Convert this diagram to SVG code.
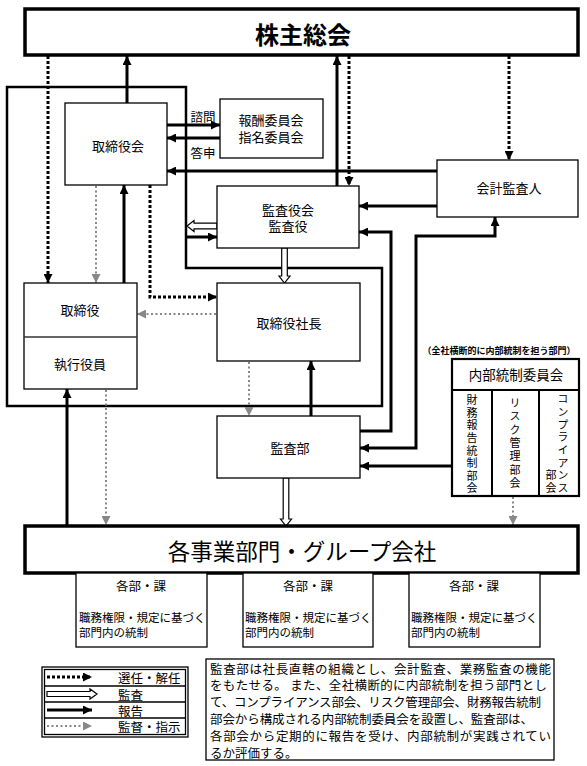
<svg xmlns="http://www.w3.org/2000/svg" width="587" height="766" viewBox="0 0 587 766">
<style>
.box{fill:#fff;stroke:#000;stroke-width:1.3}
.thick{fill:#fff;stroke:#000;stroke-width:3.5}
.t{font-family:"Noto Sans CJK JP","Noto Sans CJK SC",sans-serif;fill:#000;text-anchor:middle;dominant-baseline:central}
.l{text-anchor:start}
.v{writing-mode:vertical-rl;text-anchor:start;font-size:11px}
.rep{stroke:#000;stroke-width:3;fill:none}
.sel{stroke:#000;stroke-width:3;stroke-dasharray:3 2;fill:none}
.sup{stroke:#888;stroke-width:2;stroke-dasharray:2 2.5;fill:none}
.aud{fill:#fff;stroke:#000;stroke-width:1.2}
.frame{fill:none;stroke:#000;stroke-width:2.5}
</style>
<defs>
<marker id="ab" markerUnits="userSpaceOnUse" markerWidth="9" markerHeight="9" refX="9" refY="4.5" orient="auto"><path d="M0,0 L9,4.5 L0,9 z" fill="#000"/></marker>
<marker id="abs" markerUnits="userSpaceOnUse" markerWidth="9" markerHeight="9" refX="9" refY="4.5" orient="auto-start-reverse"><path d="M0,0 L9,4.5 L0,9 z" fill="#000"/></marker>
<marker id="ag" markerUnits="userSpaceOnUse" markerWidth="9" markerHeight="9" refX="9" refY="4.5" orient="auto"><path d="M0,0 L9,4.5 L0,9 z" fill="#888"/></marker>
</defs>

<g id="exec-frame"><path class="frame" d="M7,87 H186 V268 H382 V406 H7 Z"/></g>

<g id="connectors">
<line class="rep" x1="127" y1="103" x2="127" y2="56" marker-end="url(#ab)"/>
<line class="sel" x1="48" y1="56" x2="48" y2="283" marker-end="url(#ab)"/>
<line class="rep" x1="167" y1="125" x2="220" y2="125" marker-end="url(#ab)"/>
<line class="rep" x1="220" y1="138" x2="167" y2="138" marker-end="url(#ab)"/>
<line class="rep" x1="437" y1="171" x2="167" y2="171" marker-end="url(#ab)"/>
<line class="rep" x1="337" y1="186" x2="337" y2="56" marker-end="url(#ab)"/>
<line class="sel" x1="349" y1="56" x2="349" y2="186" marker-end="url(#ab)"/>
<line class="sel" x1="509" y1="56" x2="509" y2="160" marker-end="url(#ab)"/>
<line class="rep" x1="437" y1="206" x2="359" y2="206" marker-end="url(#ab)"/>
<path class="rep" d="M360,431 H391 V232 H359" marker-end="url(#ab)"/>
<path class="rep" d="M360,448 H416 V236 H495 V217" marker-start="url(#abs)" marker-end="url(#abs)"/>
<line class="rep" x1="452" y1="466" x2="360" y2="466" marker-end="url(#ab)"/>
<line class="rep" x1="311" y1="416" x2="311" y2="361" marker-end="url(#ab)"/>
<line class="sup" x1="249" y1="362" x2="249" y2="416" marker-end="url(#ag)"/>
<path class="sel" d="M150,185 V297 H217" marker-end="url(#ab)"/>
<line class="sup" x1="216" y1="314" x2="137" y2="314" marker-end="url(#ag)"/>
<line class="sup" x1="96" y1="186" x2="96" y2="283" marker-end="url(#ag)"/>
<line class="rep" x1="124" y1="283" x2="124" y2="185" marker-end="url(#ab)"/>
<line class="sup" x1="106" y1="390" x2="106" y2="525" marker-end="url(#ag)"/>
<line class="rep" x1="67" y1="525" x2="67" y2="389" marker-end="url(#ab)"/>
<line class="sup" x1="513" y1="497" x2="513" y2="525" marker-end="url(#ag)"/>
<line class="rep" x1="187" y1="237" x2="217" y2="237" marker-end="url(#ab)"/>
<path class="aud" d="M281.7,248 V276 H279 L284.5,283 L290,276 H287.3 V248 Z"/>
<path class="aud" d="M283.2,478 V519 H280.5 L286,526 L291.5,519 H288.8 V478 Z"/>
<path class="aud" d="M217,223.2 H194 V220.5 L187,226 L194,231.5 V228.8 H217 Z"/>
<text class="t" x="203" y="116" font-size="12.5">諮問</text>
<text class="t" x="203" y="152" font-size="12.5">答申</text>
</g>

<g id="shareholders"><rect class="thick" x="25" y="9" width="553" height="46"/><text class="t" x="303" y="33" font-size="24" font-weight="bold">株主総会</text></g>
<g id="board"><rect class="box" x="65" y="103" width="102" height="82"/><text class="t" x="118" y="145" font-size="13">取締役会</text></g>
<g id="committees"><rect class="box" x="220" y="99" width="103" height="59"/><text class="t" x="271" y="119" font-size="13">報酬委員会</text><text class="t" x="271" y="136" font-size="13">指名委員会</text></g>
<g id="accounting-auditor"><rect class="box" x="437" y="160" width="141" height="57"/><text class="t" x="509" y="187" font-size="13">会計監査人</text></g>
<g id="audit-board"><rect class="box" x="217" y="186" width="142" height="62"/><text class="t" x="288" y="209" font-size="13">監査役会</text><text class="t" x="288" y="225" font-size="13">監査役</text></g>
<g id="president"><rect class="box" x="217" y="283" width="143" height="78"/><text class="t" x="289" y="322" font-size="13">取締役社長</text></g>
<g id="directors"><rect class="box" x="24" y="283" width="113" height="106"/><line x1="24" y1="337" x2="137" y2="337" stroke="#333" stroke-width="1.5"/><text class="t" x="80" y="309" font-size="13">取締役</text><text class="t" x="80" y="363" font-size="13">執行役員</text></g>
<g id="audit-dept"><rect class="box" x="217" y="416" width="143" height="62"/><text class="t" x="290" y="447" font-size="13">監査部</text></g>
<g id="internal-control">
<text class="t" x="499" y="350" font-size="9" font-weight="bold">（全社横断的に内部統制を担う部門）</text>
<rect x="452" y="359" width="127" height="137" fill="#fff" stroke="#000" stroke-width="2.2"/>
<line x1="452" y1="390" x2="579" y2="390" stroke="#000" stroke-width="2"/>
<line x1="492" y1="390" x2="492" y2="496" stroke="#000" stroke-width="2"/>
<line x1="539" y1="390" x2="539" y2="496" stroke="#000" stroke-width="2"/>
<text class="t" x="516" y="374" font-size="13.5">内部統制委員会</text>
<text class="t v" x="472" y="394.5" letter-spacing="1.6">財務報告統制部会</text>
<text class="t v" x="515" y="397.5" letter-spacing="2.3">リスク管理部会</text>
<text class="t v" x="563" y="393.5" letter-spacing="1.7">コンプライアンス</text>
<text class="t v" x="551" y="469.5" letter-spacing="2">部会</text>
</g>
<g id="business-units"><rect class="thick" x="25" y="526" width="553" height="47"/><text class="t" x="302" y="550" font-size="22.5">各事業部門・グループ会社</text></g>
<g id="dept1"><rect class="box" x="76" y="573" width="131" height="74"/><text class="t" x="141" y="585" font-size="12.5">各部・課</text><text class="t l" x="79" y="617" font-size="11.5">職務権限・規定に基づく</text><text class="t l" x="79" y="632" font-size="11.5">部門内の統制</text></g>
<g id="dept2"><rect class="box" x="243" y="573" width="130" height="74"/><text class="t" x="308" y="585" font-size="12.5">各部・課</text><text class="t l" x="245" y="617" font-size="11.5">職務権限・規定に基づく</text><text class="t l" x="245" y="632" font-size="11.5">部門内の統制</text></g>
<g id="dept3"><rect class="box" x="409" y="573" width="131" height="74"/><text class="t" x="474" y="585" font-size="12.5">各部・課</text><text class="t l" x="411" y="617" font-size="11.5">職務権限・規定に基づく</text><text class="t l" x="411" y="632" font-size="11.5">部門内の統制</text></g>
<g id="legend">
<rect x="42" y="667" width="146" height="70" fill="#fff" stroke="#000" stroke-width="1.3"/>
<rect x="44.5" y="669.5" width="141" height="65" fill="none" stroke="#000" stroke-width="1.3"/>
<line x1="44.5" y1="686" x2="185.5" y2="686" stroke="#000" stroke-width="1.3"/>
<line x1="44.5" y1="702" x2="185.5" y2="702" stroke="#000" stroke-width="1.3"/>
<line x1="44.5" y1="718" x2="185.5" y2="718" stroke="#000" stroke-width="1.3"/>
<line class="sel" x1="47" y1="677" x2="92" y2="677" marker-end="url(#ab)"/>
<path class="aud" d="M47,691.5 H90 V689 L97,694 L90,699 V696.5 H47 Z"/>
<line class="rep" x1="47" y1="710" x2="92" y2="710" marker-end="url(#ab)"/>
<line class="sup" x1="47" y1="726" x2="92" y2="726" marker-end="url(#ag)"/>
<text class="t l" x="118" y="677" font-size="12.5">選任・解任</text>
<text class="t l" x="118" y="694" font-size="12.5">監査</text>
<text class="t l" x="118" y="710" font-size="12.5">報告</text>
<text class="t l" x="118" y="726" font-size="12.5">監督・指示</text>
</g>
<g id="note">
<rect x="206" y="659" width="348" height="101" fill="#fff" stroke="#000" stroke-width="1.3"/>
<text class="t l" font-size="12.5" x="210" y="668" textLength="341" lengthAdjust="spacing">監査部は社長直轄の組織とし、会計監査、業務監査の機能</text>
<text class="t l" font-size="12.5" x="210" y="684.8" textLength="337" lengthAdjust="spacing">をもたせる。 また、全社横断的に内部統制を担う部門とし</text>
<text class="t l" font-size="12.5" x="210" y="701.6" textLength="331" lengthAdjust="spacing">て、コンプライアンス部会、リスク管理部会、財務報告統制</text>
<text class="t l" font-size="12.5" x="210" y="718.4" textLength="323" lengthAdjust="spacing">部会から構成される内部統制委員会を設置し、監査部は、</text>
<text class="t l" font-size="12.5" x="210" y="735.2" textLength="341" lengthAdjust="spacing">各部会から定期的に報告を受け、内部統制が実践されてい</text>
<text class="t l" font-size="12.5" x="210" y="752">るか評価する。</text>
</g>
</svg>
